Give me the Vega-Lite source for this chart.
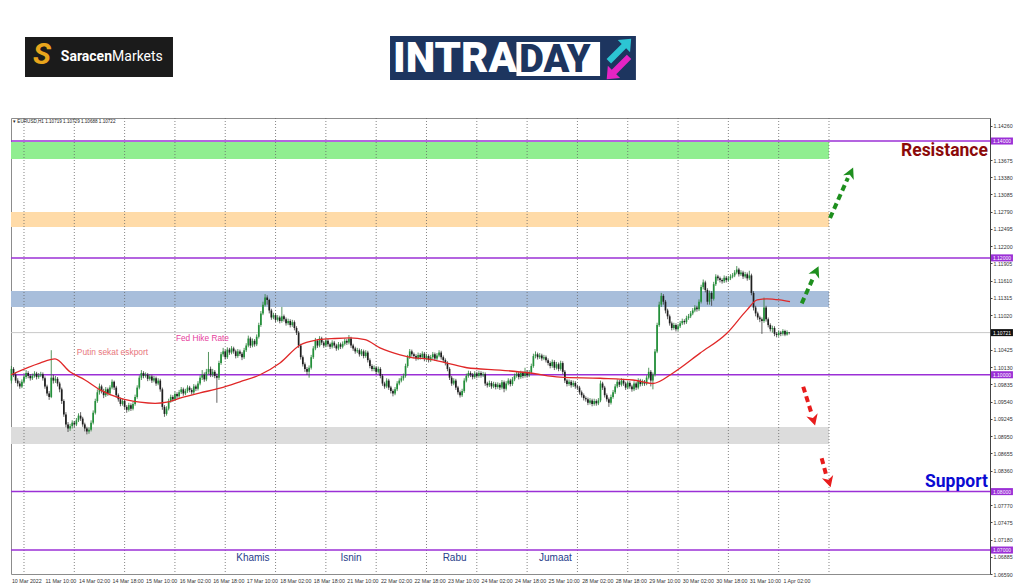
{
"$schema": "https://vega.github.io/schema/vega-lite/v6.json",
"width": 979, "height": 456,
"autosize": {"type": "none"},
"padding": {"left": 11, "top": 118, "right": 34, "bottom": 13},
"background": "white",
"config": {"view": {"stroke": "#8c8c8c", "strokeWidth": 1}, "font": "Liberation Sans"},
"datasets": {
"k": [
{"i":-6,"o":1.0990,"h":1.1015,"l":1.0985,"c":1.1010},{"i":-5,"o":1.1010,"h":1.1013,"l":1.0996,"c":1.1000},{"i":-4,"o":1.1000,"h":1.1004,"l":1.0986,"c":1.0990},{"i":-3,"o":1.0990,"h":1.0994,"l":1.0980,"c":1.0985},{"i":-2,"o":1.0985,"h":1.0989,"l":1.0976,"c":1.0980},{"i":-1,"o":1.0980,"h":1.0992,"l":1.0977,"c":1.0988},
{"i":0,"o":1.0988,"h":1.1000,"l":1.0985,"c":1.0996},{"i":1,"o":1.0996,"h":1.1008,"l":1.0993,"c":1.1003},{"i":2,"o":1.1003,"h":1.1006,"l":1.0994,"c":1.0998},{"i":3,"o":1.0998,"h":1.1001,"l":1.0990,"c":1.0994},{"i":4,"o":1.0994,"h":1.1002,"l":1.0991,"c":1.0998},{"i":5,"o":1.0998,"h":1.1006,"l":1.0995,"c":1.1002},{"i":6,"o":1.1002,"h":1.1005,"l":1.0992,"c":1.0996},{"i":7,"o":1.0996,"h":1.1003,"l":1.0993,"c":1.0999},{"i":8,"o":1.0999,"h":1.1005,"l":1.0996,"c":1.1001},{"i":9,"o":1.1001,"h":1.1004,"l":1.0990,"c":1.0994},
{"i":10,"o":1.0994,"h":1.0997,"l":1.0976,"c":1.0980},{"i":11,"o":1.0980,"h":1.0983,"l":1.0964,"c":1.0968},{"i":12,"o":1.0968,"h":1.0972,"l":1.0957,"c":1.0962},{"i":13,"o":1.0962,"h":1.1042,"l":1.0960,"c":1.0995},{"i":14,"o":1.0995,"h":1.1000,"l":1.0985,"c":1.0990},{"i":15,"o":1.0990,"h":1.0998,"l":1.0986,"c":1.0993},{"i":16,"o":1.0993,"h":1.0996,"l":1.0980,"c":1.0985},{"i":17,"o":1.0985,"h":1.0988,"l":1.0970,"c":1.0975},{"i":18,"o":1.0975,"h":1.0978,"l":1.0950,"c":1.0955},{"i":19,"o":1.0955,"h":1.0958,"l":1.0928,"c":1.0932},
{"i":20,"o":1.0932,"h":1.0936,"l":1.0910,"c":1.0915},{"i":21,"o":1.0915,"h":1.0919,"l":1.0902,"c":1.0908},{"i":22,"o":1.0908,"h":1.0916,"l":1.0904,"c":1.0912},{"i":23,"o":1.0912,"h":1.0922,"l":1.0908,"c":1.0918},{"i":24,"o":1.0918,"h":1.0921,"l":1.0910,"c":1.0915},{"i":25,"o":1.0915,"h":1.0926,"l":1.0912,"c":1.0922},{"i":26,"o":1.0922,"h":1.0934,"l":1.0919,"c":1.0930},{"i":27,"o":1.0930,"h":1.0936,"l":1.0921,"c":1.0925},{"i":28,"o":1.0925,"h":1.0928,"l":1.0911,"c":1.0915},{"i":29,"o":1.0915,"h":1.0918,"l":1.0903,"c":1.0908},
{"i":30,"o":1.0908,"h":1.0911,"l":1.0898,"c":1.0903},{"i":31,"o":1.0903,"h":1.0910,"l":1.0899,"c":1.0906},{"i":32,"o":1.0906,"h":1.0922,"l":1.0903,"c":1.0918},{"i":33,"o":1.0918,"h":1.0939,"l":1.0915,"c":1.0935},{"i":34,"o":1.0935,"h":1.0959,"l":1.0932,"c":1.0955},{"i":35,"o":1.0955,"h":1.0975,"l":1.0952,"c":1.0970},{"i":36,"o":1.0970,"h":1.0985,"l":1.0966,"c":1.0980},{"i":37,"o":1.0980,"h":1.0983,"l":1.0968,"c":1.0972},{"i":38,"o":1.0972,"h":1.0976,"l":1.0960,"c":1.0965},{"i":39,"o":1.0965,"h":1.0979,"l":1.0962,"c":1.0975},
{"i":40,"o":1.0975,"h":1.0978,"l":1.0964,"c":1.0968},{"i":41,"o":1.0968,"h":1.0982,"l":1.0965,"c":1.0978},{"i":42,"o":1.0978,"h":1.0992,"l":1.0975,"c":1.0988},{"i":43,"o":1.0988,"h":1.0990,"l":1.0974,"c":1.0978},{"i":44,"o":1.0978,"h":1.0981,"l":1.0961,"c":1.0965},{"i":45,"o":1.0965,"h":1.0968,"l":1.0954,"c":1.0958},{"i":46,"o":1.0958,"h":1.0961,"l":1.0946,"c":1.0950},{"i":47,"o":1.0950,"h":1.0959,"l":1.0947,"c":1.0955},{"i":48,"o":1.0955,"h":1.0958,"l":1.0941,"c":1.0945},{"i":49,"o":1.0945,"h":1.0948,"l":1.0935,"c":1.0940},
{"i":50,"o":1.0940,"h":1.0952,"l":1.0937,"c":1.0948},{"i":51,"o":1.0948,"h":1.0951,"l":1.0938,"c":1.0942},{"i":52,"o":1.0942,"h":1.0954,"l":1.0939,"c":1.0950},{"i":53,"o":1.0950,"h":1.0966,"l":1.0947,"c":1.0962},{"i":54,"o":1.0962,"h":1.0982,"l":1.0959,"c":1.0978},{"i":55,"o":1.0978,"h":1.0999,"l":1.0975,"c":1.0995},{"i":56,"o":1.0995,"h":1.1008,"l":1.0991,"c":1.1003},{"i":57,"o":1.1003,"h":1.1006,"l":1.0994,"c":1.0998},{"i":58,"o":1.0998,"h":1.1004,"l":1.0995,"c":1.1000},{"i":59,"o":1.1000,"h":1.1003,"l":1.0989,"c":1.0993},
{"i":60,"o":1.0993,"h":1.1001,"l":1.0990,"c":1.0997},{"i":61,"o":1.0997,"h":1.1000,"l":1.0986,"c":1.0990},{"i":62,"o":1.0990,"h":1.0998,"l":1.0987,"c":1.0994},{"i":63,"o":1.0994,"h":1.0997,"l":1.0981,"c":1.0985},{"i":64,"o":1.0985,"h":1.0994,"l":1.0982,"c":1.0990},{"i":65,"o":1.0990,"h":1.0993,"l":1.0971,"c":1.0975},{"i":66,"o":1.0975,"h":1.0978,"l":1.0940,"c":1.0945},{"i":67,"o":1.0945,"h":1.0948,"l":1.0928,"c":1.0933},{"i":68,"o":1.0933,"h":1.0946,"l":1.0930,"c":1.0942},{"i":69,"o":1.0942,"h":1.0959,"l":1.0939,"c":1.0955},
{"i":70,"o":1.0955,"h":1.0966,"l":1.0952,"c":1.0962},{"i":71,"o":1.0962,"h":1.0965,"l":1.0954,"c":1.0958},{"i":72,"o":1.0958,"h":1.0971,"l":1.0955,"c":1.0967},{"i":73,"o":1.0967,"h":1.0970,"l":1.0959,"c":1.0963},{"i":74,"o":1.0963,"h":1.0974,"l":1.0960,"c":1.0970},{"i":75,"o":1.0970,"h":1.0979,"l":1.0967,"c":1.0975},{"i":76,"o":1.0975,"h":1.0978,"l":1.0964,"c":1.0968},{"i":77,"o":1.0968,"h":1.0976,"l":1.0965,"c":1.0972},{"i":78,"o":1.0972,"h":1.0982,"l":1.0969,"c":1.0978},{"i":79,"o":1.0978,"h":1.0981,"l":1.0970,"c":1.0974},
{"i":80,"o":1.0974,"h":1.0977,"l":1.0966,"c":1.0970},{"i":81,"o":1.0970,"h":1.0984,"l":1.0967,"c":1.0980},{"i":82,"o":1.0980,"h":1.0983,"l":1.0972,"c":1.0976},{"i":83,"o":1.0976,"h":1.0989,"l":1.0973,"c":1.0985},{"i":84,"o":1.0985,"h":1.0999,"l":1.0982,"c":1.0995},{"i":85,"o":1.0995,"h":1.1008,"l":1.0991,"c":1.1000},{"i":86,"o":1.1000,"h":1.1004,"l":1.0988,"c":1.0992},{"i":87,"o":1.0992,"h":1.1010,"l":1.0989,"c":1.1005},{"i":88,"o":1.1005,"h":1.1039,"l":1.1001,"c":1.1010},{"i":89,"o":1.1010,"h":1.1014,"l":1.0996,"c":1.1000},
{"i":90,"o":1.1000,"h":1.1010,"l":1.0996,"c":1.1005},{"i":91,"o":1.1005,"h":1.1008,"l":1.0994,"c":1.0998},{"i":92,"o":1.0998,"h":1.1002,"l":1.0952,"c":1.0995},{"i":93,"o":1.0995,"h":1.1024,"l":1.0991,"c":1.1020},{"i":94,"o":1.1020,"h":1.1039,"l":1.1017,"c":1.1035},{"i":95,"o":1.1035,"h":1.1046,"l":1.1031,"c":1.1040},{"i":96,"o":1.1040,"h":1.1043,"l":1.1026,"c":1.1030},{"i":97,"o":1.1030,"h":1.1047,"l":1.1027,"c":1.1043},{"i":98,"o":1.1043,"h":1.1046,"l":1.1034,"c":1.1038},{"i":99,"o":1.1038,"h":1.1049,"l":1.1035,"c":1.1045},
{"i":100,"o":1.1045,"h":1.1048,"l":1.1036,"c":1.1040},{"i":101,"o":1.1040,"h":1.1043,"l":1.1028,"c":1.1032},{"i":102,"o":1.1032,"h":1.1044,"l":1.1029,"c":1.1040},{"i":103,"o":1.1040,"h":1.1043,"l":1.1032,"c":1.1036},{"i":104,"o":1.1036,"h":1.1039,"l":1.1025,"c":1.1030},{"i":105,"o":1.1030,"h":1.1046,"l":1.1027,"c":1.1042},{"i":106,"o":1.1042,"h":1.1054,"l":1.1039,"c":1.1050},{"i":107,"o":1.1050,"h":1.1067,"l":1.1047,"c":1.1062},{"i":108,"o":1.1062,"h":1.1065,"l":1.1046,"c":1.1050},{"i":109,"o":1.1050,"h":1.1062,"l":1.1047,"c":1.1058},
{"i":110,"o":1.1058,"h":1.1061,"l":1.1048,"c":1.1052},{"i":111,"o":1.1052,"h":1.1069,"l":1.1049,"c":1.1065},{"i":112,"o":1.1065,"h":1.1089,"l":1.1062,"c":1.1085},{"i":113,"o":1.1085,"h":1.1109,"l":1.1082,"c":1.1105},{"i":114,"o":1.1105,"h":1.1125,"l":1.1102,"c":1.1120},{"i":115,"o":1.1120,"h":1.1138,"l":1.1117,"c":1.1132},{"i":116,"o":1.1132,"h":1.1136,"l":1.1120,"c":1.1128},{"i":117,"o":1.1128,"h":1.1130,"l":1.1105,"c":1.1110},{"i":118,"o":1.1110,"h":1.1113,"l":1.1094,"c":1.1098},{"i":119,"o":1.1098,"h":1.1106,"l":1.1095,"c":1.1102},
{"i":120,"o":1.1102,"h":1.1105,"l":1.1090,"c":1.1094},{"i":121,"o":1.1094,"h":1.1102,"l":1.1091,"c":1.1098},{"i":122,"o":1.1098,"h":1.1101,"l":1.1088,"c":1.1092},{"i":123,"o":1.1092,"h":1.1116,"l":1.1089,"c":1.1100},{"i":124,"o":1.1100,"h":1.1103,"l":1.1091,"c":1.1095},{"i":125,"o":1.1095,"h":1.1098,"l":1.1084,"c":1.1088},{"i":126,"o":1.1088,"h":1.1096,"l":1.1085,"c":1.1092},{"i":127,"o":1.1092,"h":1.1095,"l":1.1081,"c":1.1085},{"i":128,"o":1.1085,"h":1.1094,"l":1.1082,"c":1.1090},{"i":129,"o":1.1090,"h":1.1093,"l":1.1076,"c":1.1080},
{"i":130,"o":1.1080,"h":1.1083,"l":1.1068,"c":1.1072},{"i":131,"o":1.1072,"h":1.1075,"l":1.1046,"c":1.1050},{"i":132,"o":1.1050,"h":1.1053,"l":1.1026,"c":1.1030},{"i":133,"o":1.1030,"h":1.1033,"l":1.1014,"c":1.1018},{"i":134,"o":1.1018,"h":1.1021,"l":1.1005,"c":1.1010},{"i":135,"o":1.1010,"h":1.1013,"l":1.1000,"c":1.1005},{"i":136,"o":1.1005,"h":1.1016,"l":1.0995,"c":1.1012},{"i":137,"o":1.1012,"h":1.1034,"l":1.1009,"c":1.1030},{"i":138,"o":1.1030,"h":1.1049,"l":1.1027,"c":1.1045},{"i":139,"o":1.1045,"h":1.1063,"l":1.1042,"c":1.1058},
{"i":140,"o":1.1058,"h":1.1061,"l":1.1046,"c":1.1050},{"i":141,"o":1.1050,"h":1.1066,"l":1.1047,"c":1.1062},{"i":142,"o":1.1062,"h":1.1065,"l":1.1051,"c":1.1055},{"i":143,"o":1.1055,"h":1.1058,"l":1.1046,"c":1.1050},{"i":144,"o":1.1050,"h":1.1062,"l":1.1047,"c":1.1058},{"i":145,"o":1.1058,"h":1.1061,"l":1.1048,"c":1.1052},{"i":146,"o":1.1052,"h":1.1055,"l":1.1044,"c":1.1048},{"i":147,"o":1.1048,"h":1.1059,"l":1.1045,"c":1.1055},{"i":148,"o":1.1055,"h":1.1058,"l":1.1046,"c":1.1050},{"i":149,"o":1.1050,"h":1.1053,"l":1.1041,"c":1.1045},
{"i":150,"o":1.1045,"h":1.1056,"l":1.1042,"c":1.1052},{"i":151,"o":1.1052,"h":1.1055,"l":1.1044,"c":1.1048},{"i":152,"o":1.1048,"h":1.1057,"l":1.1045,"c":1.1053},{"i":153,"o":1.1053,"h":1.1062,"l":1.1050,"c":1.1058},{"i":154,"o":1.1058,"h":1.1061,"l":1.1051,"c":1.1055},{"i":155,"o":1.1055,"h":1.1068,"l":1.1052,"c":1.1062},{"i":156,"o":1.1062,"h":1.1065,"l":1.1046,"c":1.1050},{"i":157,"o":1.1050,"h":1.1053,"l":1.1041,"c":1.1045},{"i":158,"o":1.1045,"h":1.1048,"l":1.1036,"c":1.1040},{"i":159,"o":1.1040,"h":1.1046,"l":1.1037,"c":1.1042},
{"i":160,"o":1.1042,"h":1.1045,"l":1.1031,"c":1.1035},{"i":161,"o":1.1035,"h":1.1044,"l":1.1032,"c":1.1040},{"i":162,"o":1.1040,"h":1.1043,"l":1.1028,"c":1.1032},{"i":163,"o":1.1032,"h":1.1042,"l":1.1029,"c":1.1038},{"i":164,"o":1.1038,"h":1.1041,"l":1.1021,"c":1.1025},{"i":165,"o":1.1025,"h":1.1028,"l":1.1011,"c":1.1015},{"i":166,"o":1.1015,"h":1.1018,"l":1.1006,"c":1.1010},{"i":167,"o":1.1010,"h":1.1016,"l":1.1006,"c":1.1012},{"i":168,"o":1.1012,"h":1.1015,"l":1.1001,"c":1.1005},{"i":169,"o":1.1005,"h":1.1014,"l":1.1002,"c":1.1010},
{"i":170,"o":1.1010,"h":1.1013,"l":1.0994,"c":1.0998},{"i":171,"o":1.0998,"h":1.1001,"l":1.0981,"c":1.0985},{"i":172,"o":1.0985,"h":1.0988,"l":1.0976,"c":1.0980},{"i":173,"o":1.0980,"h":1.0994,"l":1.0977,"c":1.0990},{"i":174,"o":1.0990,"h":1.0993,"l":1.0974,"c":1.0978},{"i":175,"o":1.0978,"h":1.0981,"l":1.0968,"c":1.0972},{"i":176,"o":1.0972,"h":1.0975,"l":1.0963,"c":1.0968},{"i":177,"o":1.0968,"h":1.0979,"l":1.0965,"c":1.0975},{"i":178,"o":1.0975,"h":1.0989,"l":1.0972,"c":1.0985},{"i":179,"o":1.0985,"h":1.0994,"l":1.0982,"c":1.0990},
{"i":180,"o":1.0990,"h":1.0998,"l":1.0987,"c":1.0994},{"i":181,"o":1.0994,"h":1.1002,"l":1.0990,"c":1.0998},{"i":182,"o":1.0998,"h":1.1019,"l":1.0995,"c":1.1015},{"i":183,"o":1.1015,"h":1.1034,"l":1.1012,"c":1.1030},{"i":184,"o":1.1030,"h":1.1044,"l":1.1027,"c":1.1040},{"i":185,"o":1.1040,"h":1.1043,"l":1.1031,"c":1.1035},{"i":186,"o":1.1035,"h":1.1038,"l":1.1028,"c":1.1032},{"i":187,"o":1.1032,"h":1.1035,"l":1.1024,"c":1.1028},{"i":188,"o":1.1028,"h":1.1038,"l":1.1025,"c":1.1034},{"i":189,"o":1.1034,"h":1.1037,"l":1.1026,"c":1.1030},
{"i":190,"o":1.1030,"h":1.1040,"l":1.1027,"c":1.1036},{"i":191,"o":1.1036,"h":1.1039,"l":1.1023,"c":1.1027},{"i":192,"o":1.1027,"h":1.1036,"l":1.1024,"c":1.1032},{"i":193,"o":1.1032,"h":1.1035,"l":1.1021,"c":1.1025},{"i":194,"o":1.1025,"h":1.1034,"l":1.1022,"c":1.1030},{"i":195,"o":1.1030,"h":1.1039,"l":1.1027,"c":1.1035},{"i":196,"o":1.1035,"h":1.1038,"l":1.1024,"c":1.1028},{"i":197,"o":1.1028,"h":1.1037,"l":1.1025,"c":1.1033},{"i":198,"o":1.1033,"h":1.1042,"l":1.1030,"c":1.1038},{"i":199,"o":1.1038,"h":1.1041,"l":1.1026,"c":1.1030},
{"i":200,"o":1.1030,"h":1.1033,"l":1.1021,"c":1.1025},{"i":201,"o":1.1025,"h":1.1028,"l":1.1016,"c":1.1020},{"i":202,"o":1.1020,"h":1.1023,"l":1.1006,"c":1.1010},{"i":203,"o":1.1010,"h":1.1013,"l":1.0991,"c":1.0995},{"i":204,"o":1.0995,"h":1.0998,"l":1.0981,"c":1.0985},{"i":205,"o":1.0985,"h":1.0994,"l":1.0982,"c":1.0990},{"i":206,"o":1.0990,"h":1.0993,"l":1.0974,"c":1.0978},{"i":207,"o":1.0978,"h":1.0981,"l":1.0966,"c":1.0970},{"i":208,"o":1.0970,"h":1.0973,"l":1.0961,"c":1.0965},{"i":209,"o":1.0965,"h":1.0976,"l":1.0962,"c":1.0972},
{"i":210,"o":1.0972,"h":1.0994,"l":1.0969,"c":1.0990},{"i":211,"o":1.0990,"h":1.1002,"l":1.0987,"c":1.0998},{"i":212,"o":1.0998,"h":1.1007,"l":1.0995,"c":1.1003},{"i":213,"o":1.1003,"h":1.1006,"l":1.0996,"c":1.1000},{"i":214,"o":1.1000,"h":1.1003,"l":1.0992,"c":1.0996},{"i":215,"o":1.0996,"h":1.1006,"l":1.0993,"c":1.1002},{"i":216,"o":1.1002,"h":1.1005,"l":1.0994,"c":1.0998},{"i":217,"o":1.0998,"h":1.1007,"l":1.0995,"c":1.1003},{"i":218,"o":1.1003,"h":1.1006,"l":1.0995,"c":1.0999},{"i":219,"o":1.0999,"h":1.1005,"l":1.0996,"c":1.1001},
{"i":220,"o":1.1001,"h":1.1004,"l":1.0981,"c":1.0985},{"i":221,"o":1.0985,"h":1.0988,"l":1.0978,"c":1.0982},{"i":222,"o":1.0982,"h":1.0990,"l":1.0979,"c":1.0986},{"i":223,"o":1.0986,"h":1.0989,"l":1.0976,"c":1.0980},{"i":224,"o":1.0980,"h":1.0988,"l":1.0977,"c":1.0984},{"i":225,"o":1.0984,"h":1.0987,"l":1.0975,"c":1.0979},{"i":226,"o":1.0979,"h":1.0987,"l":1.0976,"c":1.0983},{"i":227,"o":1.0983,"h":1.0986,"l":1.0974,"c":1.0978},{"i":228,"o":1.0978,"h":1.0991,"l":1.0975,"c":1.0987},{"i":229,"o":1.0987,"h":1.0990,"l":1.0970,"c":1.0976},
{"i":230,"o":1.0976,"h":1.0989,"l":1.0973,"c":1.0985},{"i":231,"o":1.0985,"h":1.0994,"l":1.0982,"c":1.0990},{"i":232,"o":1.0990,"h":1.0993,"l":1.0980,"c":1.0984},{"i":233,"o":1.0984,"h":1.0996,"l":1.0981,"c":1.0992},{"i":234,"o":1.0992,"h":1.1002,"l":1.0989,"c":1.0998},{"i":235,"o":1.0998,"h":1.1006,"l":1.0995,"c":1.1002},{"i":236,"o":1.1002,"h":1.1005,"l":1.0992,"c":1.0996},{"i":237,"o":1.0996,"h":1.1007,"l":1.0993,"c":1.1003},{"i":238,"o":1.1003,"h":1.1006,"l":1.0994,"c":1.0998},{"i":239,"o":1.0998,"h":1.1012,"l":1.0995,"c":1.1005},
{"i":240,"o":1.1005,"h":1.1008,"l":1.0995,"c":1.0999},{"i":241,"o":1.0999,"h":1.1008,"l":1.0996,"c":1.1004},{"i":242,"o":1.1004,"h":1.1019,"l":1.1001,"c":1.1015},{"i":243,"o":1.1015,"h":1.1036,"l":1.1012,"c":1.1032},{"i":244,"o":1.1032,"h":1.1040,"l":1.1028,"c":1.1035},{"i":245,"o":1.1035,"h":1.1038,"l":1.1026,"c":1.1030},{"i":246,"o":1.1030,"h":1.1037,"l":1.1027,"c":1.1033},{"i":247,"o":1.1033,"h":1.1036,"l":1.1024,"c":1.1028},{"i":248,"o":1.1028,"h":1.1034,"l":1.1025,"c":1.1030},{"i":249,"o":1.1030,"h":1.1033,"l":1.1021,"c":1.1025},
{"i":250,"o":1.1025,"h":1.1028,"l":1.1016,"c":1.1020},{"i":251,"o":1.1020,"h":1.1023,"l":1.1011,"c":1.1015},{"i":252,"o":1.1015,"h":1.1026,"l":1.1012,"c":1.1022},{"i":253,"o":1.1022,"h":1.1025,"l":1.1008,"c":1.1012},{"i":254,"o":1.1012,"h":1.1022,"l":1.1009,"c":1.1018},{"i":255,"o":1.1018,"h":1.1021,"l":1.1006,"c":1.1010},{"i":256,"o":1.1010,"h":1.1024,"l":1.1007,"c":1.1020},{"i":257,"o":1.1020,"h":1.1023,"l":1.1001,"c":1.1005},{"i":258,"o":1.1005,"h":1.1008,"l":1.0986,"c":1.0990},{"i":259,"o":1.0990,"h":1.0993,"l":1.0980,"c":1.0984},
{"i":260,"o":1.0984,"h":1.0992,"l":1.0981,"c":1.0988},{"i":261,"o":1.0988,"h":1.0991,"l":1.0978,"c":1.0982},{"i":262,"o":1.0982,"h":1.0990,"l":1.0979,"c":1.0986},{"i":263,"o":1.0986,"h":1.0989,"l":1.0976,"c":1.0980},{"i":264,"o":1.0980,"h":1.0983,"l":1.0974,"c":1.0978},{"i":265,"o":1.0978,"h":1.0981,"l":1.0966,"c":1.0970},{"i":266,"o":1.0970,"h":1.0973,"l":1.0961,"c":1.0965},{"i":267,"o":1.0965,"h":1.0968,"l":1.0956,"c":1.0960},{"i":268,"o":1.0960,"h":1.0963,"l":1.0954,"c":1.0958},{"i":269,"o":1.0958,"h":1.0961,"l":1.0948,"c":1.0952},
{"i":270,"o":1.0952,"h":1.0960,"l":1.0949,"c":1.0956},{"i":271,"o":1.0956,"h":1.0959,"l":1.0946,"c":1.0950},{"i":272,"o":1.0950,"h":1.0959,"l":1.0947,"c":1.0955},{"i":273,"o":1.0955,"h":1.0958,"l":1.0947,"c":1.0951},{"i":274,"o":1.0951,"h":1.0960,"l":1.0948,"c":1.0956},{"i":275,"o":1.0956,"h":1.0990,"l":1.0953,"c":1.0985},{"i":276,"o":1.0985,"h":1.0988,"l":1.0974,"c":1.0978},{"i":277,"o":1.0978,"h":1.0981,"l":1.0961,"c":1.0965},{"i":278,"o":1.0965,"h":1.0968,"l":1.0954,"c":1.0958},{"i":279,"o":1.0958,"h":1.0961,"l":1.0945,"c":1.0952},
{"i":280,"o":1.0952,"h":1.0966,"l":1.0949,"c":1.0962},{"i":281,"o":1.0962,"h":1.0974,"l":1.0959,"c":1.0970},{"i":282,"o":1.0970,"h":1.0984,"l":1.0967,"c":1.0980},{"i":283,"o":1.0980,"h":1.0992,"l":1.0977,"c":1.0988},{"i":284,"o":1.0988,"h":1.0991,"l":1.0979,"c":1.0983},{"i":285,"o":1.0983,"h":1.0994,"l":1.0980,"c":1.0990},{"i":286,"o":1.0990,"h":1.0993,"l":1.0981,"c":1.0985},{"i":287,"o":1.0985,"h":1.0988,"l":1.0974,"c":1.0978},{"i":288,"o":1.0978,"h":1.0990,"l":1.0975,"c":1.0986},{"i":289,"o":1.0986,"h":1.0989,"l":1.0976,"c":1.0980},
{"i":290,"o":1.0980,"h":1.0983,"l":1.0971,"c":1.0975},{"i":291,"o":1.0975,"h":1.0989,"l":1.0972,"c":1.0985},{"i":292,"o":1.0985,"h":1.0988,"l":1.0974,"c":1.0978},{"i":293,"o":1.0978,"h":1.0994,"l":1.0975,"c":1.0990},{"i":294,"o":1.0990,"h":1.0993,"l":1.0980,"c":1.0984},{"i":295,"o":1.0984,"h":1.0992,"l":1.0981,"c":1.0988},{"i":296,"o":1.0988,"h":1.0991,"l":1.0981,"c":1.0985},{"i":297,"o":1.0985,"h":1.0999,"l":1.0982,"c":1.0995},{"i":298,"o":1.0995,"h":1.1012,"l":1.0992,"c":1.1005},{"i":299,"o":1.1005,"h":1.1008,"l":1.0980,"c":1.0990},
{"i":300,"o":1.0990,"h":1.1004,"l":1.0975,"c":1.1000},{"i":301,"o":1.1000,"h":1.1044,"l":1.0997,"c":1.1040},{"i":302,"o":1.1040,"h":1.1089,"l":1.1037,"c":1.1085},{"i":303,"o":1.1085,"h":1.1125,"l":1.1082,"c":1.1120},{"i":304,"o":1.1120,"h":1.1140,"l":1.1116,"c":1.1135},{"i":305,"o":1.1135,"h":1.1138,"l":1.1120,"c":1.1125},{"i":306,"o":1.1125,"h":1.1128,"l":1.1105,"c":1.1110},{"i":307,"o":1.1110,"h":1.1113,"l":1.1095,"c":1.1100},{"i":308,"o":1.1100,"h":1.1103,"l":1.1084,"c":1.1088},{"i":309,"o":1.1088,"h":1.1091,"l":1.1076,"c":1.1080},
{"i":310,"o":1.1080,"h":1.1089,"l":1.1077,"c":1.1085},{"i":311,"o":1.1085,"h":1.1088,"l":1.1074,"c":1.1078},{"i":312,"o":1.1078,"h":1.1087,"l":1.1075,"c":1.1083},{"i":313,"o":1.1083,"h":1.1092,"l":1.1080,"c":1.1088},{"i":314,"o":1.1088,"h":1.1096,"l":1.1085,"c":1.1092},{"i":315,"o":1.1092,"h":1.1095,"l":1.1086,"c":1.1090},{"i":316,"o":1.1090,"h":1.1101,"l":1.1087,"c":1.1097},{"i":317,"o":1.1097,"h":1.1104,"l":1.1094,"c":1.1100},{"i":318,"o":1.1100,"h":1.1109,"l":1.1097,"c":1.1105},{"i":319,"o":1.1105,"h":1.1114,"l":1.1102,"c":1.1110},
{"i":320,"o":1.1110,"h":1.1119,"l":1.1107,"c":1.1115},{"i":321,"o":1.1115,"h":1.1118,"l":1.1108,"c":1.1112},{"i":322,"o":1.1112,"h":1.1129,"l":1.1109,"c":1.1125},{"i":323,"o":1.1125,"h":1.1154,"l":1.1122,"c":1.1150},{"i":324,"o":1.1150,"h":1.1163,"l":1.1146,"c":1.1158},{"i":325,"o":1.1158,"h":1.1161,"l":1.1141,"c":1.1145},{"i":326,"o":1.1145,"h":1.1148,"l":1.1120,"c":1.1125},{"i":327,"o":1.1125,"h":1.1144,"l":1.1120,"c":1.1140},{"i":328,"o":1.1140,"h":1.1143,"l":1.1118,"c":1.1130},{"i":329,"o":1.1130,"h":1.1159,"l":1.1127,"c":1.1155},
{"i":330,"o":1.1155,"h":1.1172,"l":1.1152,"c":1.1168},{"i":331,"o":1.1168,"h":1.1171,"l":1.1161,"c":1.1165},{"i":332,"o":1.1165,"h":1.1168,"l":1.1158,"c":1.1162},{"i":333,"o":1.1162,"h":1.1165,"l":1.1156,"c":1.1160},{"i":334,"o":1.1160,"h":1.1170,"l":1.1157,"c":1.1166},{"i":335,"o":1.1166,"h":1.1169,"l":1.1158,"c":1.1162},{"i":336,"o":1.1162,"h":1.1169,"l":1.1159,"c":1.1165},{"i":337,"o":1.1165,"h":1.1172,"l":1.1162,"c":1.1168},{"i":338,"o":1.1168,"h":1.1174,"l":1.1165,"c":1.1170},{"i":339,"o":1.1170,"h":1.1179,"l":1.1167,"c":1.1175},
{"i":340,"o":1.1175,"h":1.1186,"l":1.1172,"c":1.1180},{"i":341,"o":1.1180,"h":1.1183,"l":1.1168,"c":1.1172},{"i":342,"o":1.1172,"h":1.1179,"l":1.1169,"c":1.1175},{"i":343,"o":1.1175,"h":1.1178,"l":1.1164,"c":1.1168},{"i":344,"o":1.1168,"h":1.1176,"l":1.1165,"c":1.1172},{"i":345,"o":1.1172,"h":1.1175,"l":1.1161,"c":1.1165},{"i":346,"o":1.1165,"h":1.1178,"l":1.1162,"c":1.1170},{"i":347,"o":1.1170,"h":1.1173,"l":1.1136,"c":1.1140},{"i":348,"o":1.1140,"h":1.1143,"l":1.1110,"c":1.1115},{"i":349,"o":1.1115,"h":1.1118,"l":1.1100,"c":1.1105},
{"i":350,"o":1.1105,"h":1.1108,"l":1.1094,"c":1.1098},{"i":351,"o":1.1098,"h":1.1101,"l":1.1090,"c":1.1095},{"i":352,"o":1.1095,"h":1.1098,"l":1.1070,"c":1.1092},{"i":353,"o":1.1092,"h":1.1132,"l":1.1089,"c":1.1115},{"i":354,"o":1.1115,"h":1.1118,"l":1.1091,"c":1.1095},{"i":355,"o":1.1095,"h":1.1098,"l":1.1081,"c":1.1085},{"i":356,"o":1.1085,"h":1.1088,"l":1.1074,"c":1.1078},{"i":357,"o":1.1078,"h":1.1084,"l":1.1072,"c":1.1080},{"i":358,"o":1.1080,"h":1.1083,"l":1.1066,"c":1.1070},{"i":359,"o":1.1070,"h":1.1073,"l":1.1064,"c":1.1068},
{"i":360,"o":1.1068,"h":1.1076,"l":1.1065,"c":1.1072},{"i":361,"o":1.1072,"h":1.1075,"l":1.1066,"c":1.1070},{"i":362,"o":1.1070,"h":1.1078,"l":1.1067,"c":1.1075},{"i":363,"o":1.1075,"h":1.1077,"l":1.1066,"c":1.1069},{"i":364,"o":1.1069,"h":1.1076,"l":1.1067,"c":1.1073},{"i":365,"o":1.1073,"h":1.1073,"l":1.1069,"c":1.10722}
],
"ma": [
{"i":-6.2,"p":1.1000},{"i":7.6,"p":1.1020},{"i":14.8,"p":1.1027},{"i":21.9,"p":1.1005},{"i":29.1,"p":1.0991},{"i":36.3,"p":1.0974},{"i":45.8,"p":1.0960},{"i":55.3,"p":1.0953},{"i":62.5,"p":1.0951},{"i":68.2,"p":1.0953},{"i":74.4,"p":1.0960},{"i":84.0,"p":1.0969},{"i":93.5,"p":1.0977},{"i":103.0,"p":1.0988},{"i":112.6,"p":1.1000},{"i":122.1,"p":1.1020},{"i":131.7,"p":1.1051},{"i":138.8,"p":1.1059},{"i":148.4,"p":1.1062},{"i":155.5,"p":1.1063},{"i":162.7,"p":1.1060},{"i":169.8,"p":1.1046},{"i":179.4,"p":1.1034},{"i":185.6,"p":1.1029},{"i":192.2,"p":1.1027},{"i":201.8,"p":1.1020},{"i":211.3,"p":1.1012},{"i":227.1,"p":1.1008},{"i":241.4,"p":1.1003},{"i":255.7,"p":1.0996},{"i":274.8,"p":1.0994},{"i":290.5,"p":1.0991},{"i":300.0,"p":1.0985},{"i":309.6,"p":1.1003},{"i":322.5,"p":1.1037},{"i":335.3,"p":1.1071},{"i":344.9,"p":1.1111},{"i":349.7,"p":1.1128},{"i":354.4,"p":1.1130},{"i":360.6,"p":1.1128},{"i":365.4,"p":1.1125}
]
},
"layer": [
{"data": {"values": [{"z":"g","p1":1.13983,"p2":1.13692},{"z":"o","p1":1.12785,"p2":1.12528},{"z":"b","p1":1.11433,"p2":1.11159},{"z":"s","p1":1.09105,"p2":1.08814}]},
 "mark": {"type": "rect"},
 "encoding": {"x": {"datum": -6.2, "type": "quantitative"}, "x2": {"datum": 384},
  "y": {"field": "p1", "type": "quantitative", "title": null}, "y2": {"field": "p2"},
  "color": {"field": "z", "type": "nominal", "legend": null, "scale": {"domain": ["g","o","b","s"], "range": ["#90ee90","#ffdba8","#a8bedb","#dcdcdc"]}}}},
{"data": {"values": [{"i":0},{"i":24},{"i":48},{"i":72},{"i":96},{"i":120},{"i":144},{"i":168},{"i":192},{"i":216},{"i":240},{"i":264},{"i":288},{"i":312},{"i":336},{"i":360},{"i":384}]},
 "mark": {"type": "rule", "color": "#666666", "strokeDash": [1,2], "strokeWidth": 0.8},
 "encoding": {"x": {"field": "i", "type": "quantitative", "title": null}}},
{"data": {"values": [{"p":1.14},{"p":1.12},{"p":1.10},{"p":1.08},{"p":1.07}]},
 "mark": {"type": "rule", "color": "#9b30d6", "strokeWidth": 1.5},
 "encoding": {"y": {"field": "p", "type": "quantitative", "title": null}}},
{"data": {"values": [{"p":1.10721}]},
 "mark": {"type": "rule", "color": "#c8c8c8", "strokeWidth": 1},
 "encoding": {"y": {"field": "p", "type": "quantitative", "title": null}}},
{"data": {"name": "k"},
 "mark": {"type": "rule", "strokeWidth": 0.8},
 "encoding": {
  "x": {"field": "i", "type": "quantitative", "scale": {"domain": [-6.2, 460.8], "nice": false, "zero": false, "padding": 0},
   "axis": {"orient": "bottom", "title": null, "grid": false, "domain": false, "ticks": false, "tickCount": 40,
    "values": [-6,10,26,42,58,74,90,106,122,138,154,170,186,202,218,234,250,266,282,298,314,330,346,362],
    "labelExpr": "['10 Mar 2022','11 Mar 10:00','14 Mar 02:00','14 Mar 18:00','15 Mar 10:00','16 Mar 02:00','16 Mar 18:00','17 Mar 10:00','18 Mar 02:00','18 Mar 18:00','21 Mar 10:00','22 Mar 02:00','22 Mar 18:00','23 Mar 10:00','24 Mar 02:00','24 Mar 18:00','25 Mar 10:00','28 Mar 02:00','28 Mar 18:00','29 Mar 10:00','30 Mar 02:00','30 Mar 18:00','31 Mar 10:00','1 Apr 02:00'][round((datum.value+6)/16)]",
    "labelAlign": "left", "labelFont": "Liberation Sans", "labelFontSize": 5.3, "labelColor": "#333333", "labelPadding": 4, "labelOverlap": false, "labelFlush": false, "labelBound": false}},
  "y": {"field": "l", "type": "quantitative", "scale": {"domain": [1.0659, 1.14394], "nice": false, "zero": false, "padding": 0},
   "axis": {"orient": "right", "title": null, "grid": false, "domain": true, "domainColor": "#444444", "tickCount": 40,
    "values": [1.1426,1.13675,1.1338,1.13085,1.1279,1.12495,1.122,1.11905,1.1161,1.11315,1.1102,1.10425,1.1013,1.09835,1.0954,1.09245,1.0895,1.08655,1.0836,1.0777,1.07475,1.0718,1.06885,1.0659],
    "format": ".5f", "tickSize": 2, "tickColor": "#444444", "labelPadding": 1, "labelFont": "Liberation Sans", "labelFontSize": 5.3, "labelColor": "#333333", "labelOverlap": false, "labelFlush": false, "labelBound": false}},
  "y2": {"field": "h"},
  "color": {"condition": {"test": "datum.c >= datum.o", "value": "#2a7a36"}, "value": "#3a3a3a"}}},
{"data": {"name": "k"},
 "mark": {"type": "bar", "size": 1.7},
 "encoding": {
  "x": {"field": "i", "type": "quantitative", "title": null},
  "y": {"field": "o", "type": "quantitative", "title": null},
  "y2": {"field": "c"},
  "color": {"condition": {"test": "datum.c >= datum.o", "value": "#23903a"}, "value": "#1e1e1e"}}},
{"data": {"name": "ma"},
 "mark": {"type": "line", "color": "#e02828", "strokeWidth": 1.3, "interpolate": "monotone"},
 "encoding": {"x": {"field": "i", "type": "quantitative", "title": null}, "y": {"field": "p", "type": "quantitative", "title": null}}},
{"data": {"values": [{"t":"Khamis","i":109.2},{"t":"Isnin","i":156},{"t":"Rabu","i":205.4},{"t":"Jumaat","i":253.5}]},
 "mark": {"type": "text", "font": "Liberation Sans", "fontSize": 10, "color": "#27408b", "align": "center", "baseline": "middle"},
 "encoding": {"x": {"field": "i", "type": "quantitative", "title": null}, "y": {"datum": 1.06863, "type": "quantitative"}, "text": {"field": "t"}}},
{"data": {"values": [{"t":"Putin sekat eskport"}]},
 "mark": {"type": "text", "font": "Liberation Sans", "fontSize": 8.4, "color": "#e8767c", "align": "center", "baseline": "middle"},
 "encoding": {"x": {"datum": 42.2, "type": "quantitative"}, "y": {"datum": 1.10389, "type": "quantitative"}, "text": {"field": "t"}}},
{"data": {"values": [{"t":"Fed Hike Rate"}]},
 "mark": {"type": "text", "font": "Liberation Sans", "fontSize": 8.3, "color": "#e6409c", "align": "center", "baseline": "middle"},
 "encoding": {"x": {"datum": 85.1, "type": "quantitative"}, "y": {"datum": 1.10611, "type": "quantitative"}, "text": {"field": "t"}}},
{"data": {"values": [{"t":"Resistance"}]},
 "mark": {"type": "text", "font": "Roboto", "fontWeight": "bold", "fontSize": 17.5, "color": "#8b0a0a", "align": "right", "baseline": "middle"},
 "encoding": {"x": {"datum": 459.8, "type": "quantitative"}, "y": {"datum": 1.13829, "type": "quantitative"}, "text": {"field": "t"}}},
{"data": {"values": [{"t":"Support"}]},
 "mark": {"type": "text", "font": "Roboto", "fontWeight": "bold", "fontSize": 17.5, "color": "#0a0ad2", "align": "right", "baseline": "middle"},
 "encoding": {"x": {"datum": 459.8, "type": "quantitative"}, "y": {"datum": 1.08164, "type": "quantitative"}, "text": {"field": "t"}}},
{"data": {"values": [{"t":"▾ EURUSD,H1  1.10719 1.10729 1.10688 1.10722"}]},
 "mark": {"type": "text", "font": "Liberation Sans", "fontSize": 4.6, "color": "#222222", "align": "left", "baseline": "middle"},
 "encoding": {"x": {"datum": -5.2, "type": "quantitative"}, "y": {"datum": 1.14317, "type": "quantitative"}, "text": {"field": "t"}}},
{"data": {"values": [{"a":"g1","i":371.0,"p":1.11222},{"a":"g1","i":376.6,"p":1.11672},{"a":"g2","i":384.5,"p":1.12682},{"a":"g2","i":393.0,"p":1.13367}]},
 "mark": {"type": "line", "color": "#1e8f1e", "strokeWidth": 4, "strokeDash": [6,4]},
 "encoding": {"x": {"field": "i", "type": "quantitative", "title": null}, "y": {"field": "p", "type": "quantitative", "title": null}, "detail": {"field": "a"}}},
{"data": {"values": [{"a":"r1","i":371.7,"p":1.09795},{"a":"r1","i":375.6,"p":1.09345},{"a":"r2","i":380.5,"p":1.0857},{"a":"r2","i":382.8,"p":1.08267}]},
 "mark": {"type": "line", "color": "#e81c1c", "strokeWidth": 4, "strokeDash": [6,4]},
 "encoding": {"x": {"field": "i", "type": "quantitative", "title": null}, "y": {"field": "p", "type": "quantitative", "title": null}, "detail": {"field": "a"}}},
{"data": {"values": [{"i":377.7,"p":1.11755},{"i":394.2,"p":1.13444}]},
 "mark": {"type": "point", "shape": "M0,-1L0.9,0.7L0,0.2L-0.9,0.7Z", "size": 170, "filled": true, "opacity": 1, "color": "#1e8f1e", "angle": 25},
 "encoding": {"x": {"field": "i", "type": "quantitative", "title": null}, "y": {"field": "p", "type": "quantitative", "title": null}}},
{"data": {"values": [{"i":376.5,"p":1.09237},{"i":383.9,"p":1.08183}]},
 "mark": {"type": "point", "shape": "M0,-1L0.9,0.7L0,0.2L-0.9,0.7Z", "size": 170, "filled": true, "opacity": 1, "color": "#e81c1c", "angle": 164},
 "encoding": {"x": {"field": "i", "type": "quantitative", "title": null}, "y": {"field": "p", "type": "quantitative", "title": null}}},
{"data": {"values": [{"p":1.14,"t":"1.14000"},{"p":1.12,"t":"1.12000"},{"p":1.10,"t":"1.10000"},{"p":1.08,"t":"1.08000"},{"p":1.07,"t":"1.07000"}]},
 "layer": [
  {"mark": {"type": "point", "shape": "M-1,-0.32H1V0.32H-1Z", "size": 484, "filled": true, "opacity": 1, "color": "#9b30d6"},
   "encoding": {"x": {"datum": 466.5, "type": "quantitative"}, "y": {"field": "p", "type": "quantitative", "title": null}}},
  {"mark": {"type": "text", "font": "Liberation Sans", "fontSize": 5, "color": "white", "align": "center", "baseline": "middle"},
   "encoding": {"x": {"datum": 466.5, "type": "quantitative"}, "y": {"field": "p", "type": "quantitative", "title": null}, "text": {"field": "t"}}}
 ]},
{"data": {"values": [{"p":1.10721,"t":"1.10721"}]},
 "layer": [
  {"mark": {"type": "point", "shape": "M-1,-0.32H1V0.32H-1Z", "size": 484, "filled": true, "opacity": 1, "color": "#111111"},
   "encoding": {"x": {"datum": 466.5, "type": "quantitative"}, "y": {"field": "p", "type": "quantitative", "title": null}}},
  {"mark": {"type": "text", "font": "Liberation Sans", "fontSize": 5, "color": "white", "align": "center", "baseline": "middle"},
   "encoding": {"x": {"datum": 466.5, "type": "quantitative"}, "y": {"field": "p", "type": "quantitative", "title": null}, "text": {"field": "t"}}}
 ]},
{"data": {"values": [{"n":"logos"}]},
 "layer": [
  {"mark": {"type": "rect", "color": "#1b1b1b"},
   "encoding": {"x": {"datum": 0.48, "type": "quantitative"}, "x2": {"datum": 71.07}, "y": {"datum": 1.1578, "type": "quantitative"}, "y2": {"datum": 1.15095}}},
  {"mark": {"type": "text", "text": "S", "font": "Roboto", "fontWeight": "bold", "fontStyle": "italic", "fontSize": 30, "color": "#e8a51c", "align": "center", "baseline": "middle"},
   "encoding": {"x": {"datum": 8.6, "type": "quantitative"}, "y": {"datum": 1.15472, "type": "quantitative"}}},
  {"mark": {"type": "text", "text": "Saracen", "font": "Roboto", "fontWeight": "bold", "fontSize": 14, "color": "white", "align": "right", "baseline": "middle"},
   "encoding": {"x": {"datum": 42.0, "type": "quantitative"}, "y": {"datum": 1.15438, "type": "quantitative"}}},
  {"mark": {"type": "text", "text": "Markets", "font": "Roboto", "fontSize": 14, "color": "white", "align": "left", "baseline": "middle"},
   "encoding": {"x": {"datum": 42.0, "type": "quantitative"}, "y": {"datum": 1.15438, "type": "quantitative"}}},
  {"mark": {"type": "rect", "color": "#1d355f"},
   "encoding": {"x": {"datum": 174.6, "type": "quantitative"}, "x2": {"datum": 291.9}, "y": {"datum": 1.15797, "type": "quantitative"}, "y2": {"datum": 1.15044}}},
  {"mark": {"type": "rect", "color": "white"},
   "encoding": {"x": {"datum": 234.9, "type": "quantitative"}, "x2": {"datum": 274.8}, "y": {"datum": 1.15694, "type": "quantitative"}, "y2": {"datum": 1.15112}}},
  {"mark": {"type": "text", "text": "INTRA", "font": "Roboto", "fontWeight": 900, "fontSize": 42, "color": "white", "align": "left", "baseline": "alphabetic"},
   "encoding": {"x": {"datum": 176, "type": "quantitative"}, "y": {"datum": 1.15181, "type": "quantitative"}}},
  {"mark": {"type": "text", "text": "DAY", "font": "Roboto", "fontWeight": 900, "fontSize": 38, "color": "#1d355f", "align": "left", "baseline": "alphabetic"},
   "encoding": {"x": {"datum": 236.3, "type": "quantitative"}, "y": {"datum": 1.15181, "type": "quantitative"}}},
  {"mark": {"type": "point", "shape": "M0,-1L0.55,-0.35L0.2,-0.35L0.2,1L-0.2,1L-0.2,-0.35L-0.55,-0.35Z", "size": 1000, "filled": true, "opacity": 1, "color": "#2cc5d3", "angle": 45},
   "encoding": {"x": {"datum": 284.3, "type": "quantitative"}, "y": {"datum": 1.15557, "type": "quantitative"}}},
  {"mark": {"type": "point", "shape": "M0,-1L0.55,-0.35L0.2,-0.35L0.2,1L-0.2,1L-0.2,-0.35L-0.55,-0.35Z", "size": 1000, "filled": true, "opacity": 1, "color": "#e524c4", "angle": 225},
   "encoding": {"x": {"datum": 283.3, "type": "quantitative"}, "y": {"datum": 1.15249, "type": "quantitative"}}}
 ]}
]
}
